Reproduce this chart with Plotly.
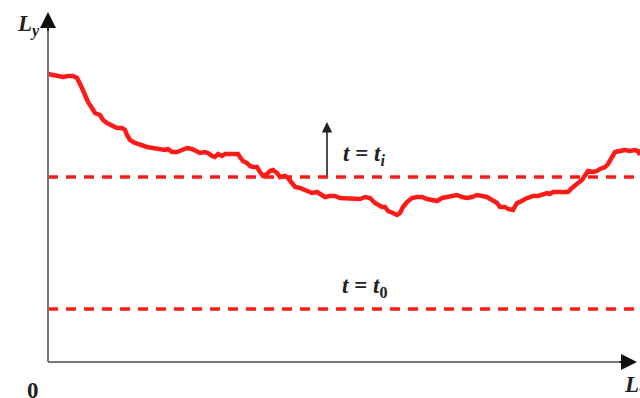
import plotly.graph_objects as go

# Curve (arbitrary units: x along Lx, y along Ly)
curve_x = [0, 9, 15, 20, 25, 29, 32, 34, 37, 40, 44, 47, 52, 55, 59, 64, 69, 74, 77, 79, 82, 87, 92,
           99, 105, 112, 117, 120, 124, 129, 134, 139, 144, 149, 152, 157, 160, 164, 167, 170, 174,
           177, 185, 190, 192, 195, 199, 202, 205, 209, 212, 215, 219, 222, 225, 229, 232, 237, 240,
           244, 247, 252, 257, 260, 264, 269, 274, 277, 282, 287, 292, 299, 305, 312, 317, 322, 327,
           330, 334, 337, 340, 345, 349, 352, 355, 359, 364, 369, 374, 379, 384, 389, 394, 399, 404,
           409, 414, 419, 424, 429, 434, 439, 444, 449, 452, 457, 460, 465, 469, 472, 477, 482, 485,
           490, 494, 499, 502, 505, 510, 514, 517, 520, 524, 527, 530, 534, 537, 540, 545, 549, 552,
           557, 560, 564, 567, 572, 577, 582, 587, 590, 592]
curve_y = [288, 286, 285, 286, 286, 284, 279, 274, 267, 260, 254, 249, 247, 242, 239, 236, 234, 234,
           232, 227, 222, 219, 217, 215, 214, 213, 212, 213, 210, 210, 212, 214, 213, 210, 209, 210,
           209, 206, 205, 208, 206, 208, 208, 208, 205, 201, 199, 196, 195, 195, 190, 186, 188, 191,
           192, 189, 185, 186, 184, 179, 175, 174, 172, 171, 169, 170, 167, 165, 166, 166, 164, 164,
           164, 163, 165, 164, 159, 157, 155, 155, 151, 149, 147, 149, 155, 160, 164, 165, 165, 163,
           162, 161, 164, 165, 165, 167, 165, 164, 165, 167, 166, 165, 162, 159, 155, 155, 153, 152,
           159, 160, 163, 165, 166, 166, 167, 169, 168, 170, 170, 170, 169, 170, 174, 177, 179, 182,
           186, 191, 190, 191, 193, 195, 198, 204, 210, 211, 212, 211, 212, 211, 207]
level_ti = 185
level_t0 = 53

fig = go.Figure()
fig.add_trace(go.Scatter(x=curve_x, y=curve_y, mode="lines",
                         line=dict(color="#ff1a1a", width=4.5), hoverinfo="skip"))
for lv in [level_ti, level_t0]:
    fig.add_trace(go.Scatter(x=[0, 592], y=[lv, lv], mode="lines",
                             line=dict(color="#ff1a1a", width=3.5, dash="10px,8px"),
                             hoverinfo="skip"))

# axes
fig.add_shape(type="line", x0=0, y0=0, x1=585, y1=0, line=dict(color="#777", width=2))
fig.add_shape(type="line", x0=0, y0=0, x1=0, y1=345, line=dict(color="#777", width=2))
fig.add_annotation(x=589, y=0, ax=570, ay=0, xref="x", yref="y", axref="x", ayref="y",
                   text="", showarrow=True, arrowhead=2, arrowsize=1.6, arrowwidth=2,
                   arrowcolor="#111")
fig.add_annotation(x=0, y=350, ax=0, ay=330, xref="x", yref="y", axref="x", ayref="y",
                   text="", showarrow=True, arrowhead=2, arrowsize=1.6, arrowwidth=2,
                   arrowcolor="#111")
# time arrow
fig.add_annotation(x=279, y=240, ax=279, ay=level_ti, xref="x", yref="y", axref="x", ayref="y",
                   text="", showarrow=True, arrowhead=2, arrowsize=1.3, arrowwidth=1.6,
                   arrowcolor="#222")

font = dict(family="Liberation Serif", size=23, color="#222")
fig.add_annotation(x=-20, y=337, text="<b><i>L<sub>y</sub></i></b>", showarrow=False,
                   font=font, xanchor="center", yanchor="middle")
fig.add_annotation(x=-15, y=-28, text="<b>0</b>", showarrow=False,
                   font=font, xanchor="center", yanchor="middle")
fig.add_annotation(x=587, y=-24, text="<b><i>L<sub>y</sub></i></b>", showarrow=False,
                   font=font, xanchor="center", yanchor="middle")
fig.add_annotation(x=316, y=207, text="<b><i>t</i> = <i>t<sub>i</sub></i></b>", showarrow=False,
                   font=font, xanchor="center", yanchor="middle")
fig.add_annotation(x=316, y=75, text="<b><i>t</i> = <i>t</i><sub>0</sub></b>", showarrow=False,
                   font=font, xanchor="center", yanchor="middle")

fig.update_layout(width=640, height=398, margin=dict(l=0, r=0, t=0, b=0),
                  paper_bgcolor="white", plot_bgcolor="white", showlegend=False,
                  xaxis=dict(range=[-48, 592], visible=False, fixedrange=True),
                  yaxis=dict(range=[-36, 362], visible=False, fixedrange=True))
fig.write_html("out.html", config={"displayModeBar": False})
